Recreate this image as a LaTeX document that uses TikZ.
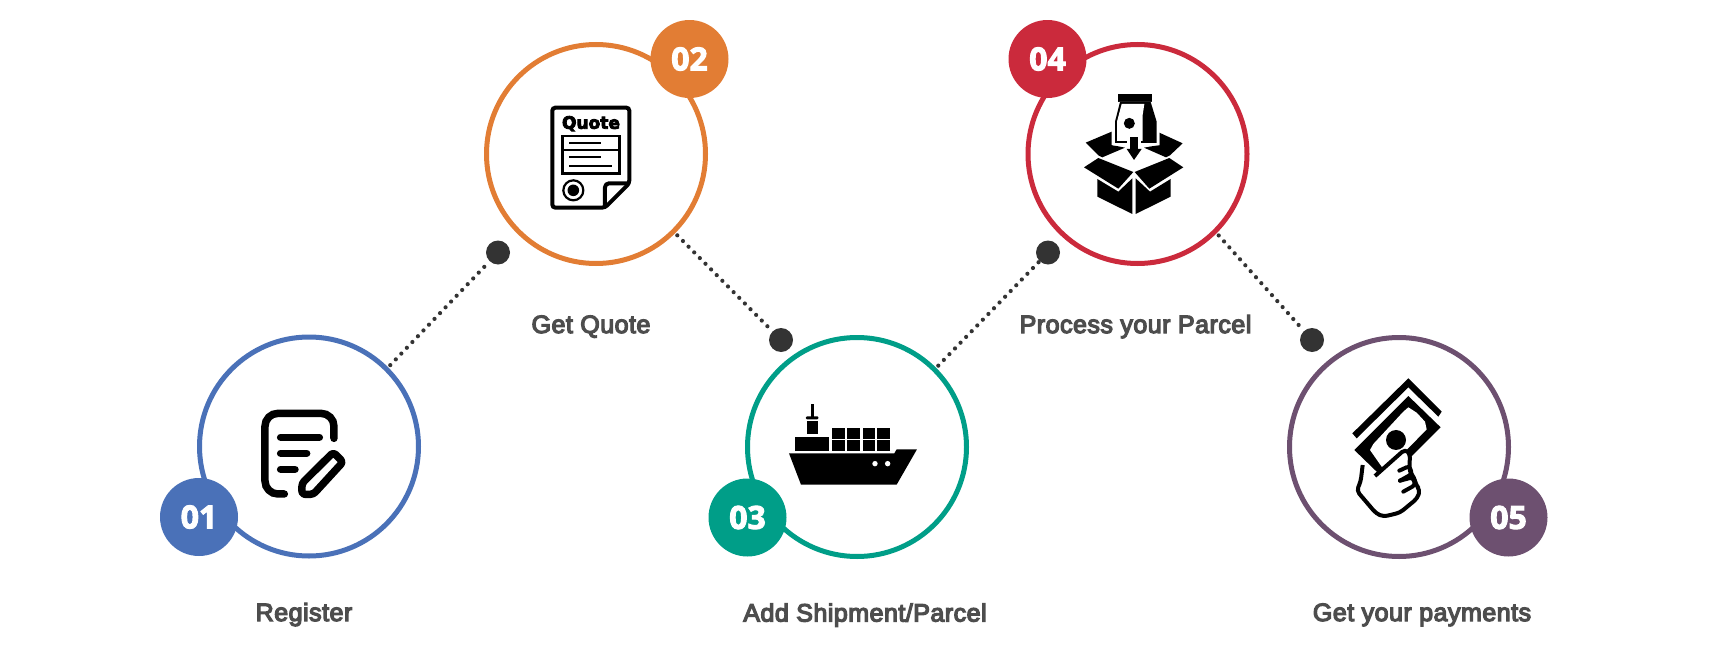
\documentclass[tikz,border=0pt]{standalone}
\usepackage{fontspec}
\setmainfont{Liberation Sans}
\newfontfamily\labelfont{Liberation Sans}[FakeBold=5,LetterSpace=2]
\newfontfamily\badgefont{Open Sans}[BoldFeatures={FakeBold=3}]
\newfontfamily\quotefont{DejaVu Sans}[BoldFeatures={FakeBold=5}]
\definecolor{regblue}{HTML}{4A71B8}
\definecolor{quoteorange}{HTML}{E27D34}
\definecolor{shipteal}{HTML}{009E88}
\definecolor{parcelred}{HTML}{CB2A3C}
\definecolor{payplum}{HTML}{6D5070}
\definecolor{dotgrey}{HTML}{333333}
\definecolor{labelgrey}{HTML}{4D4D4D}
\tikzset{
  ring/.style={circle,draw=#1,fill=white,line width=5pt,minimum size=219pt,inner sep=0pt},
  badge/.style={circle,fill=#1,text=white,minimum size=78pt,inner sep=0pt,
    font=\badgefont\bfseries\fontsize{32}{34}\selectfont},
  joint/.style={circle,fill=dotgrey,minimum size=24pt,inner sep=0pt},
  dotline/.style={draw=dotgrey,line width=4.2pt,line cap=round,dash pattern=on 0pt off 8pt},
  steplabel/.style={anchor=base,text=labelgrey,font=\labelfont\fontsize{25}{28}\selectfont},
  zoomed/.style={shift={#1},x=0.3333pt,y=-0.3333pt}
}
\begin{document}
\begin{tikzpicture}[x=1pt,y=-1pt]
  \useasboundingbox (0,0) rectangle (1709,645);
  % rings and joints
  \path (309,446.5) node[ring=regblue] (regring) {};
  \path (596,154) node[ring=quoteorange] (quotering) {};
  \path (857,447) node[ring=shipteal] (shipring) {};
  \path (1137.5,154) node[ring=parcelred] (parcelring) {};
  \path (1399,447) node[ring=payplum] (payring) {};
  \path (498,252.5) node[joint] (jointa) {};
  \path (781,340) node[joint] (jointb) {};
  \path (1048,252.5) node[joint] (jointc) {};
  \path (1312,340) node[joint] (jointd) {};
  \draw[dotline,shorten <=3pt] (regring.45)--(jointa);
  \draw[dotline,shorten <=3pt] (quotering.-45)--(jointb);
  \draw[dotline,shorten <=3pt] (shipring.45)--(jointc);
  \draw[dotline,shorten <=3pt] (parcelring.-45)--(jointd);
  % badges
  \path (199,517) node[badge=regblue] (regbadge) {01};
  \path (689.5,59) node[badge=quoteorange] (quotebadge) {02};
  \path (747.5,517.5) node[badge=shipteal] (shipbadge) {03};
  \path (1047.5,59) node[badge=parcelred] (parcelbadge) {04};
  \path (1508.5,517.5) node[badge=payplum] (paybadge) {05};
  % labels
  \path (304,621) node[steplabel] (reglabel) {Register};
  \path (591,333) node[steplabel] (quotelabel) {Get Quote};
  \path (865,621.5) node[steplabel] (shiplabel) {Add Shipment/Parcel};
  \path (1135.5,333) node[steplabel] (parcellabel) {Process your Parcel};
  \path (1422,621) node[steplabel] (paylabel) {Get your payments};
  % register icon
  \begin{scope}[zoomed={(150,320)}]
    \draw[line width=7.5pt,line cap=round,rounded corners=13pt]
      (552,355)--(552,280)--(345,280)--(345,522)--(403,522);
    \draw[line width=7.5pt,line cap=round] (392,352)--(508,352);
    \draw[line width=7.5pt,line cap=round] (392,400)--(470,400);
    \draw[line width=7.5pt,line cap=round] (392,448)--(435,448);
    \draw[line width=7.5pt,line join=round,rounded corners=3pt]
      (456,523)--(456,490)--(550,397)--(579,426)--(490,523)--cycle;
  \end{scope}
  % quote icon
  \begin{scope}[zoomed={(480,20)}]
    \draw[line width=4pt,rounded corners=3pt]
      (217,263)--(448,263)--(448,490)--(375,563)--(217,563)--cycle;
    \draw[line width=4pt,line join=round,rounded corners=4pt]
      (448,490)--(375,490)--(375,563);
    \path (333,311) node[font=\quotefont\bfseries\fontsize{17}{18}\selectfont] (quoteword) {Quote};
    \draw[line width=2.6pt] (248,348) rectangle (418,460);
    \draw[line width=2.6pt] (248,390)--(418,390);
    \draw[line width=2.2pt] (268,370)--(362,370);
    \draw[line width=2.2pt] (268,411)--(362,411);
    \draw[line width=2.2pt] (268,437)--(396,437);
    \draw[line width=2.2pt] (280,511) circle[radius=10pt];
    \fill (280,511) circle[radius=5.8pt];
  \end{scope}
  % ship icon
  \begin{scope}[zoomed={(700,330)}]
    \fill (267,370)--(583,370)--(590,358)--(651,358)--(590,464)--(303,464)--cycle;
    \fill[white] (525,401) circle[radius=2.7pt] (563,401) circle[radius=2.7pt];
    \fill (333,222) rectangle (342,260);
    \fill[rounded corners=1pt] (318,259) rectangle (355,268);
    \fill (320,272) rectangle (355,313);
    \fill (285,321) rectangle (388,363);
    \foreach \colx in {396,442,488,532} {
      \fill (\colx,293) rectangle ++(38,34);
      \fill (\colx,331) rectangle ++(38,32);
    }
  \end{scope}
  % parcel icon
  \begin{scope}[zoomed={(1070,80)}]
    \fill (47,188)--(125,155)--(125,195)--(165,203)--(97,232)--(85,226)--cycle;
    \fill (338,190)--(268,158)--(268,195)--(222,203)--(288,232)--(300,226)--cycle;
    \fill (42,262)--(85,234)--(190,276)--(145,326)--cycle;
    \fill (340,262)--(298,234)--(194,276)--(238,326)--cycle;
    \fill (82,297)--(145,335)--(187,295)--(187,402)--(82,350)--cycle;
    \fill (197,295)--(240,335)--(302,297)--(302,350)--(197,402)--cycle;
    % bag
    \fill (145,42) rectangle (247,66);
    \fill[white] (146,66)--(127,125)--(127,196)--(268,196)--(268,125)--(246,66)--cycle;
    \fill (150,66)--(242,66)--(260,125)--(260,189)--(135,189)--(135,125)--cycle;
    \fill[white] (155,72)--(223,72)--(218,105)--(218,183)--(141,183)--(141,125)--cycle;
    \fill (178,130) circle[radius=5.5pt];
    \fill[white] (172,168) rectangle (213,190);
    \fill (180,172) rectangle (205,207);
    \fill (170,207)--(215,207)--(192,240)--cycle;
  \end{scope}
  % payment icon
  \begin{scope}[zoomed={(1320,370)}]
    \fill (97,190)--(265,25)--(365,125)--(355,140)--(265,52)--(110,205)--cycle;
    \fill (103,240)--(265,78)--(362,172)--(200,334)--cycle;
    \fill[white] (150,240)--(160,222)--(250,125)--(265,112)--(290,128)--(315,155)--(320,178)--(205,296)--(185,290)--cycle;
    \fill (228,210) circle[radius=10pt];
    \draw[line width=4pt,fill=white,line join=round,rounded corners=4pt]
      (128,285)--(122,335)--(110,362)--(168,430)--(190,440)--(240,428)--(292,385)
      --(300,360)--(288,345)--(282,320)--(268,305)--(270,250)--(255,238)--(165,318);
    \draw[line width=4pt,line cap=round,rounded corners=3pt] (238,302)--(268,288)--(276,312)--(240,332);
    \draw[line width=4pt,line cap=round,rounded corners=3pt] (240,332)--(278,322)--(286,345)--(250,365);
  \end{scope}
\end{tikzpicture}
\end{document}
